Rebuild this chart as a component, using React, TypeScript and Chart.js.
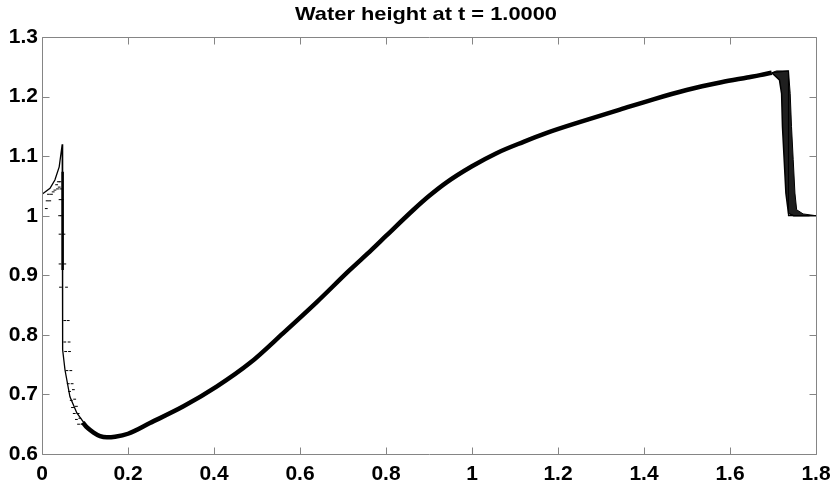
import React, { useEffect, useRef } from 'react';
import { Chart, registerables } from 'chart.js';

Chart.register(...registerables);

const TITLE = 'Water height at t = 1.0000';
const FONT = "'Liberation Sans', Arial, Helvetica, sans-serif";

const xTicks = [0, 0.2, 0.4, 0.6, 0.8, 1, 1.2, 1.4, 1.6, 1.8];
const yTicks = [0.6, 0.7, 0.8, 0.9, 1, 1.1, 1.2, 1.3];

// numerical solution (dense markers forming thick curve)
const curveX = [0.095, 0.104, 0.12, 0.135, 0.151, 0.17, 0.2, 0.251, 0.329, 0.406, 0.484, 0.561, 0.639, 0.716, 0.767, 0.8, 0.864, 0.9, 0.941, 1.0, 1.057, 1.12, 1.174, 1.25, 1.344, 1.42, 1.499, 1.58, 1.64, 1.67, 1.697];
const curveY = [0.653, 0.645, 0.636, 0.630, 0.628, 0.629, 0.634, 0.652, 0.680, 0.713, 0.753, 0.803, 0.855, 0.909, 0.943, 0.966, 1.010, 1.033, 1.056, 1.083, 1.105, 1.124, 1.139, 1.157, 1.178, 1.195, 1.211, 1.224, 1.232, 1.236, 1.240];

// exact solution (thin line) - left part
const exactLeftX = [0, 0.0186, 0.030, 0.040, 0.047, 0.048, 0.0535, 0.065, 0.081, 0.104];
const exactLeftY = [1.036, 1.046, 1.060, 1.082, 1.120, 0.775, 0.741, 0.696, 0.669, 0.646];

// exact solution (thin line) - shock on the right
const exactRightX = [1.697, 1.736, 1.736, 1.8];
const exactRightY = [1.240, 1.243, 1.0, 1.0];

// dense marker column at the left jump
const barX = [0.048, 0.048];
const barY = [1.074, 0.909];

// marker band at the right shock
const bandLeftX = [1.697, 1.715, 1.720, 1.722, 1.726, 1.730, 1.736, 1.748, 1.8];
const bandLeftY = [1.240, 1.228, 1.205, 1.150, 1.094, 1.038, 1.004, 1.0, 1.0];
const bandRightX = [1.697, 1.708, 1.736, 1.740, 1.743, 1.747, 1.751, 1.755, 1.770, 1.8];
const bandRightY = [1.240, 1.243, 1.243, 1.205, 1.150, 1.094, 1.038, 1.010, 1.003, 1.0];

// scattered markers
const outlierX = [0.010, 0.012, 0.018, 0.015, 0.022, 0.026, 0.030, 0.034, 0.038, 0.042, 0.036, 0.040, 0.044, 0.042, 0.047, 0.041, 0.046, 0.042, 0.051, 0.042, 0.053, 0.043, 0.057, 0.053, 0.061, 0.053, 0.063, 0.055, 0.064, 0.058, 0.067, 0.061, 0.070, 0.064, 0.073, 0.068, 0.076, 0.071, 0.080, 0.075, 0.084, 0.080, 0.088, 0.085, 0.093];
const outlierY = [1.012, 1.025, 1.025, 1.036, 1.036, 1.040, 1.043, 1.052, 1.057, 1.057, 1.045, 1.048, 1.045, 1.027, 1.027, 1.000, 1.000, 0.969, 0.969, 0.919, 0.919, 0.880, 0.880, 0.824, 0.824, 0.788, 0.788, 0.772, 0.772, 0.740, 0.740, 0.718, 0.718, 0.705, 0.708, 0.690, 0.692, 0.678, 0.680, 0.668, 0.668, 0.658, 0.660, 0.650, 0.650];

const zip = (xs: number[], ys: number[]) => xs.map((x, i) => ({ x, y: ys[i] }));
const fmt = (v: number) => String(Number(v.toFixed(1)));

const framePlugin = {
  id: 'frame',
  afterDraw(chart: any) {
    const { ctx, chartArea: a, scales } = chart;
    const tl = 7;
    ctx.save();
    ctx.strokeStyle = '#858585';
    ctx.lineWidth = 1;
    ctx.beginPath();
    const L = Math.round(a.left) + 0.5, R = Math.round(a.right) + 0.5;
    const T = Math.round(a.top) + 0.5, B = Math.round(a.bottom) + 0.5;
    ctx.rect(L, T, R - L, B - T);
    xTicks.forEach((v) => {
      const p = Math.round(scales.x.getPixelForValue(v)) + 0.5;
      ctx.moveTo(p, B); ctx.lineTo(p, B - tl);
      ctx.moveTo(p, T); ctx.lineTo(p, T + tl);
    });
    yTicks.forEach((v) => {
      const p = Math.round(scales.y.getPixelForValue(v)) + 0.5;
      ctx.moveTo(L, p); ctx.lineTo(L + tl, p);
      ctx.moveTo(R, p); ctx.lineTo(R - tl, p);
    });
    ctx.stroke();
    // title
    ctx.fillStyle = '#000';
    ctx.font = `bold 19px ${FONT}`;
    ctx.textAlign = 'center';
    ctx.textBaseline = 'alphabetic';
    const w = ctx.measureText(TITLE).width;
    const sx = 262 / w;
    const cx = (a.left + a.right) / 2 - 3;
    ctx.translate(cx, 19.5);
    ctx.scale(sx, 1);
    ctx.fillText(TITLE, 0, 0);
    ctx.restore();
  },
};

export default function App() {
  const ref = useRef<HTMLCanvasElement | null>(null);
  useEffect(() => {
    if (!ref.current) return;
    const chart = new Chart(ref.current, {
      type: 'scatter',
      data: {
        datasets: [
          {
            data: zip(bandRightX, bandRightY),
            showLine: true, borderColor: '#000', borderWidth: 1, pointRadius: 0, tension: 0, fill: false,
          },
          {
            data: zip(bandLeftX, bandLeftY),
            showLine: true, borderColor: '#000', borderWidth: 1.5, pointRadius: 0, tension: 0,
            fill: 0, backgroundColor: 'rgba(0,0,0,0.88)',
          },
          {
            data: zip(curveX, curveY),
            showLine: true, borderColor: '#000', borderWidth: 4.5, pointRadius: 0,
            cubicInterpolationMode: 'monotone', fill: false,
          },
          {
            data: zip(exactLeftX, exactLeftY),
            showLine: true, borderColor: '#000', borderWidth: 1.3, pointRadius: 0, tension: 0, fill: false,
          },
          {
            data: zip(exactRightX, exactRightY),
            showLine: true, borderColor: '#000', borderWidth: 1.2, pointRadius: 0, tension: 0, fill: false,
          },
          {
            data: zip(barX, barY),
            showLine: true, borderColor: '#000', borderWidth: 2.5, pointRadius: 0, fill: false,
          },
          {
            data: zip(outlierX, outlierY),
            showLine: false, pointStyle: 'line', pointRadius: 1.4, borderColor: '#000',
            pointBorderColor: '#000', borderWidth: 1, fill: false,
          },
        ] as any,
      },
      options: {
        responsive: false,
        animation: false,
        devicePixelRatio: 1,
        layout: { padding: { top: 37, right: 16, left: 0, bottom: 0 } },
        plugins: { legend: { display: false }, tooltip: { enabled: false }, title: { display: false } },
        scales: {
          x: {
            type: 'linear', min: 0, max: 1.8,
            grid: { display: false, drawTicks: false },
            border: { display: false },
            afterBuildTicks: (s: any) => { s.ticks = xTicks.map((v) => ({ value: v })); },
            afterFit: (s: any) => { s.height = 31; s.paddingLeft = 0; s.paddingRight = 0; },
            ticks: {
              padding: 8, color: '#000', maxRotation: 0, autoSkip: false,
              font: { family: FONT, size: 21, weight: 'bold' },
              callback: (v: any) => fmt(Number(v)),
            },
          },
          y: {
            type: 'linear', min: 0.6, max: 1.3,
            grid: { display: false, drawTicks: false },
            border: { display: false },
            afterBuildTicks: (s: any) => { s.ticks = yTicks.map((v) => ({ value: v })); },
            afterFit: (s: any) => { s.width = 42; s.paddingTop = 0; s.paddingBottom = 0; },
            ticks: {
              padding: 4, color: '#000', autoSkip: false,
              font: { family: FONT, size: 21, weight: 'bold' },
              callback: (v: any) => fmt(Number(v)),
            },
          },
        },
      } as any,
      plugins: [framePlugin],
    });
    return () => chart.destroy();
  }, []);
  return (
    <div style={{ position: 'fixed', left: 0, top: 0, width: 832, height: 485, background: '#fff' }}>
      <canvas ref={ref} width={832} height={485} style={{ width: 832, height: 485, display: 'block' }} />
    </div>
  );
}
